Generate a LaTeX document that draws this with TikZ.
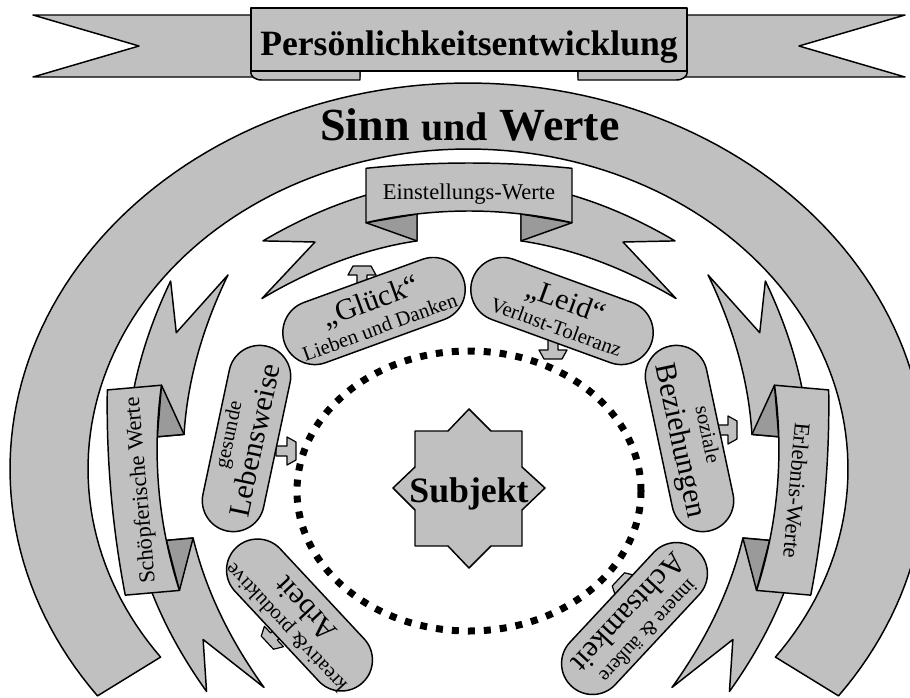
\documentclass[tikz,border=0pt]{standalone}
\usepackage{fontspec}
\setmainfont{Liberation Serif}
\usetikzlibrary{shapes.misc}
\definecolor{silv}{HTML}{C0C0C0}
\definecolor{darkfold}{HTML}{9A9A9A}
\tikzset{
 shp/.style={draw=black, line width=1.1pt, fill=silv, line join=round},
 foldshp/.style={draw=black, line width=1.1pt, fill=darkfold, line join=round},
 capsule/.style={rounded rectangle, draw=black, line width=1.1pt, fill=silv, inner sep=0pt},
 bigt/.style={font=\fontsize{22.5pt}{24pt}\selectfont, inner sep=0pt},
 smallt/.style={font=\fontsize{15.5pt}{17pt}\selectfont, inner sep=0pt},
 ribtext/.style={font=\fontsize{16.9pt}{18pt}\selectfont, inner sep=0pt},
 dotring/.style={draw=black, line width=5.25pt, dash pattern=on 5.25pt off 6.75pt},
 blkarrow/.pic={\draw[shp, line width=0.9pt] (0,-5) -- (11,-5) -- (11,-14) -- (20,-9) -- (20,9) -- (11,14) -- (11,5) -- (0,5) -- cycle;}
}
\newcommand\myribbon[5]{%
\begin{scope}[shift={(#1,#2)}, rotate=#3, transform shape]
\draw[shp] (-103,32.2) -- plot[domain=-103:-206,samples=40] (\x,{17+14.35*(\x/100)*(\x/100)}) -- (-154,79) -- (-207,135.5) -- plot[domain=-207:-52,samples=40] (\x,{74+14.35*(\x/100)*(\x/100)}) -- (-52,51) -- cycle;
\draw[shp] (103,32.2) -- plot[domain=103:206,samples=40] (\x,{17+14.35*(\x/100)*(\x/100)}) -- (154,79) -- (207,135.5) -- plot[domain=207:52,samples=40] (\x,{74+14.35*(\x/100)*(\x/100)}) -- (52,51) -- cycle;
\draw[foldshp] (-103,59.7) -- (-52,51) -- (-52,77.9) -- cycle;
\draw[foldshp] (103,59.7) -- (52,51) -- (52,77.9) -- cycle;
\draw[shp] (-103,5.3) -- plot[domain=-103:103,samples=40] (\x,{5*(\x/100)*(\x/100)}) -- (103,59.7) -- plot[domain=103:-103,samples=40] (\x,{48+11*(\x/100)*(\x/100)}) -- cycle;
\node[ribtext, anchor=base] (#4) at (0,36) {#5};
\end{scope}}
\newcommand\mycapsule[9]{% x,y,rot,len,wid,name,top text,bottom text,(top big=1 / small=0)
\begin{scope}[shift={(#1,#2)}, rotate=#3, transform shape]
\node[capsule, minimum width=#4*0.75pt, minimum height=#5*0.75pt] (#6) at (0,0) {};
\ifnum#9=1
\node[bigt, anchor=base] (#6-a) at (0,-1) {#7};
\node[smallt, anchor=base] (#6-b) at (0,24) {#8};
\else
\node[smallt, anchor=base] (#6-a) at (0,-12) {#7};
\node[bigt, anchor=base] (#6-b) at (0,18) {#8};
\fi
\end{scope}}
\begin{document}
\begin{tikzpicture}[x=0.75pt, y=-0.75pt]
\useasboundingbox (0,0) rectangle (910,697);
\clip (0,0) rectangle (910,697);
\fill[white] (0,0) rectangle (910,697);

% title banner
\draw[shp] (33,15) -- (360,15) -- (360,77) -- (33,77) -- (139,46) -- cycle;
\draw[shp] (905,15) -- (578,15) -- (578,77) -- (905,77) -- (799,46) -- cycle;
\draw[shp] (360,64) -- (262,64) .. controls (247,64) and (247,80) .. (262,80) -- (360,80) -- cycle;
\draw[shp] (578,64) -- (676,64) .. controls (691,64) and (691,80) .. (676,80) -- (578,80) -- cycle;
\draw[shp] (251,8) rectangle (687,71);
\node[anchor=base, inner sep=0pt, font=\fontsize{26.7pt}{29pt}\selectfont\bfseries] (title) at (469,55) {Persönlichkeitsentwicklung};

% big arc
\draw[shp] plot[domain=144:396, samples=150] ({468+458*cos(\x)},{469+386*sin(\x)}) -- plot[domain=396:144, samples=150] ({468+380*cos(\x)},{469+320*sin(\x)}) -- cycle;
\node[anchor=base, inner sep=0pt, font=\bfseries] (sinn) at (470,140) {\fontsize{34.5pt}{36pt}\selectfont Sinn {\fontsize{30pt}{32pt}\selectfont und} Werte};

% middle ribbons
\myribbon{469}{163}{0}{einst}{Einstellungs-Werte}
\myribbon{111}{493}{95}{schoepf}{Schöpferische Werte}
\myribbon{825}{493}{-95}{erleb}{Erlebnis-Werte}

% arrows
\pic[rotate=90] at (362,286) {blkarrow};
\pic[rotate=-90] at (553,339) {blkarrow};
\pic at (276,451) {blkarrow};
\pic at (717,430) {blkarrow};
\pic[rotate=223] at (282,629) {blkarrow};
\pic[rotate=137] at (633,593) {blkarrow};

% capsules
\mycapsule{374}{311}{20}{190}{64}{glueck}{„Glück“}{Lieben und Danken}{1}
\mycapsule{562}{311}{-20}{190}{64}{leid}{„Leid“}{Verlust-Toleranz}{1}
\mycapsule{246.5}{438.5}{78}{189}{62}{leben}{gesunde}{Lebensweise}{0}
\mycapsule{689.5}{438.5}{-78}{189}{62}{bez}{soziale}{Beziehungen}{0}
\mycapsule{299.5}{615}{133}{185}{62}{arbeit}{kreativ\& produktive}{Arbeit}{0}
\mycapsule{634.5}{618.5}{-133}{185}{62}{acht}{innere \& äußere}{Achtsamkeit}{0}

% dotted ring
\draw[dotring] (469,491) ellipse [x radius=129pt, y radius=105pt];

% star
\draw[shp] (469,409) -- (491,431) -- (522,431) -- (522,467) -- (545,488) -- (522,510) -- (522,546) -- (491,546) -- (469,568) -- (448,546) -- (415,546) -- (415,510) -- (393,488) -- (415,467) -- (415,431) -- (448,431) -- cycle;
\node[anchor=base, inner sep=0pt, font=\fontsize{26.8pt}{28pt}\selectfont\bfseries] (subj) at (469,502) {Subjekt};
\end{tikzpicture}
\end{document}
